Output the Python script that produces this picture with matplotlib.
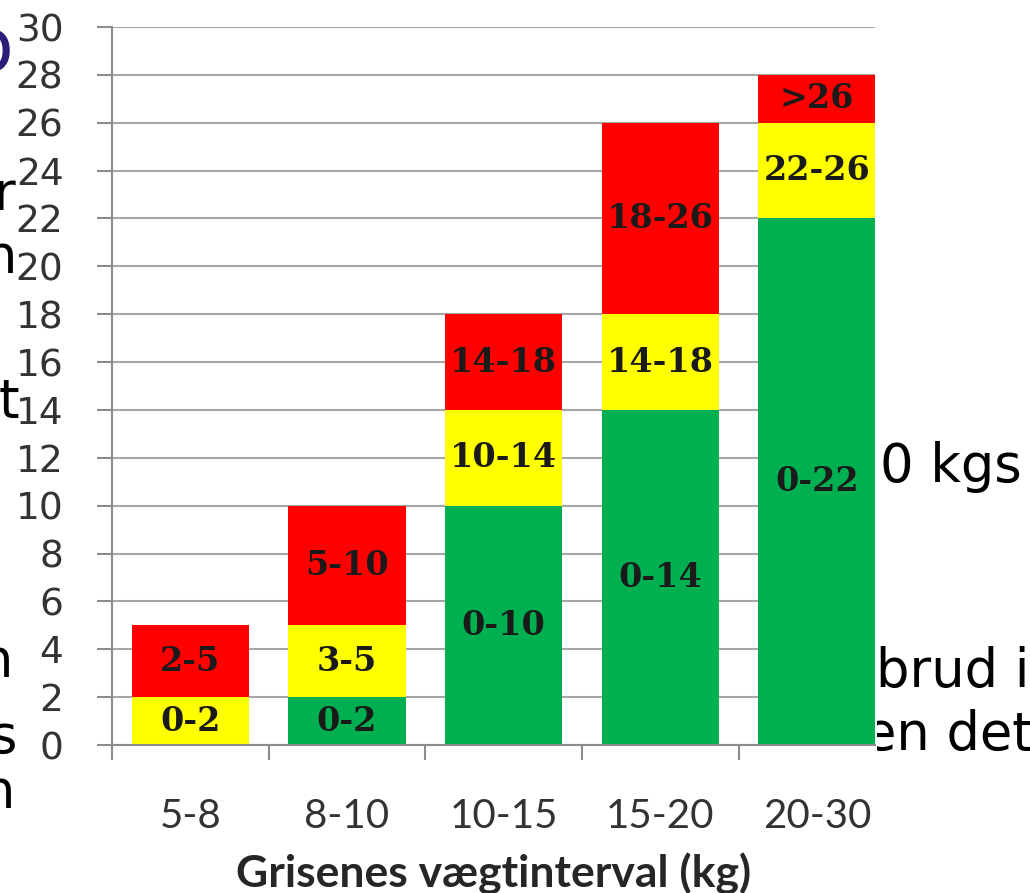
import numpy as np
import matplotlib.pyplot as plt
from matplotlib.patches import Rectangle

categories = ['5-8', '8-10', '10-15', '15-20', '20-30']
green = [0, 2, 10, 14, 22]
yellow = [2, 3, 4, 4, 4]
red = [3, 5, 4, 8, 2]
green_labels = ['', '0-2', '0-10', '0-14', '0-22']
yellow_labels = ['0-2', '3-5', '10-14', '14-18', '22-26']
red_labels = ['2-5', '5-10', '14-18', '18-26', '>26']
yticks = np.arange(0, 31, 2)
xlabel = 'Grisenes vægtinterval (kg)'

W, H = 1030, 893
fig = plt.figure(figsize=(W / 100, H / 100), dpi=100)

# slide text peeking out behind the chart picture
sl = dict(fontsize=38, family='DejaVu Sans', color='black', zorder=1)
fig.text(14 / W, 1 - 51 / H, 'o', ha='right', va='center', fontsize=54,
         color='#2B1E78', zorder=1)
for ch, xr, yb in [('r', 15, 210), ('n', 17, 273), ('t', 19, 417),
                   ('n', 13, 677), ('s', 17, 753), ('n', 15, 808)]:
    fig.text(xr / W, 1 - yb / H, ch, ha='right', va='baseline', **sl)
fig.text(880 / W, 1 - 482 / H, '0 kgs', ha='left', va='baseline', **sl)
fig.text(876 / W, 1 - 687 / H, 'brud i', ha='left', va='baseline', **sl)
fig.text(864 / W, 1 - 750 / H, 'en det', ha='left', va='baseline', **sl)
fig.patches.append(Rectangle((19 / W, 0), 858 / W, 1, transform=fig.transFigure,
                             facecolor='white', edgecolor='none', zorder=2))

ax = fig.add_axes([112 / W, 1 - 745 / H, 763 / W, 718 / H])
ax.set_zorder(3)
ax.patch.set_alpha(0)

x = np.arange(len(categories))
bw = 0.75
mid = np.add(green, yellow)
ax.bar(x, green, bw, color='#00B050', zorder=2)
ax.bar(x, yellow, bw, bottom=green, color='#FFFF00', zorder=2)
ax.bar(x, red, bw, bottom=mid, color='#FF0000', zorder=2)

lab = dict(ha='center', va='center', fontsize=24, family='DejaVu Serif',
           fontweight='bold', color='#1a1a1a', zorder=4)
for i in range(len(categories)):
    if green_labels[i]:
        ax.text(x[i], green[i] / 2, green_labels[i], **lab)
    ax.text(x[i], green[i] + yellow[i] / 2, yellow_labels[i], **lab)
    ax.text(x[i], mid[i] + red[i] / 2, red_labels[i], **lab)

ax.set_xlim(-0.5, 4.37)
ax.set_ylim(0, 30)
ax.set_yticks(yticks)
ax.yaxis.grid(True, color='#a6a6a6', lw=1.5)
ax.set_axisbelow(True)
for s in ['top', 'right']:
    ax.spines[s].set_visible(False)
for s in ['left', 'bottom']:
    ax.spines[s].set_color('#8c8c8c')
    ax.spines[s].set_linewidth(1.5)

ax.set_xticks(np.arange(-0.5, 4, 1))
ax.set_xticklabels([])
ax.set_xticks(x, minor=True)
ax.set_xticklabels(categories, minor=True, family='Lato', fontsize=29,
                   color='#333333')
ax.tick_params(axis='x', which='major', length=11, width=1.5, color='#8c8c8c')
ax.tick_params(axis='x', which='minor', length=0, pad=38)
ax.tick_params(axis='y', length=11, width=1.5, color='#8c8c8c', pad=24,
               labelsize=27, labelcolor='#333333')
for t in ax.get_yticklabels():
    t.set_family('DejaVu Sans')

ax.set_xlabel(xlabel, family='Lato', fontweight='bold', fontsize=32,
              color='#262626', labelpad=13)

fig.savefig('out.png', dpi=100)
